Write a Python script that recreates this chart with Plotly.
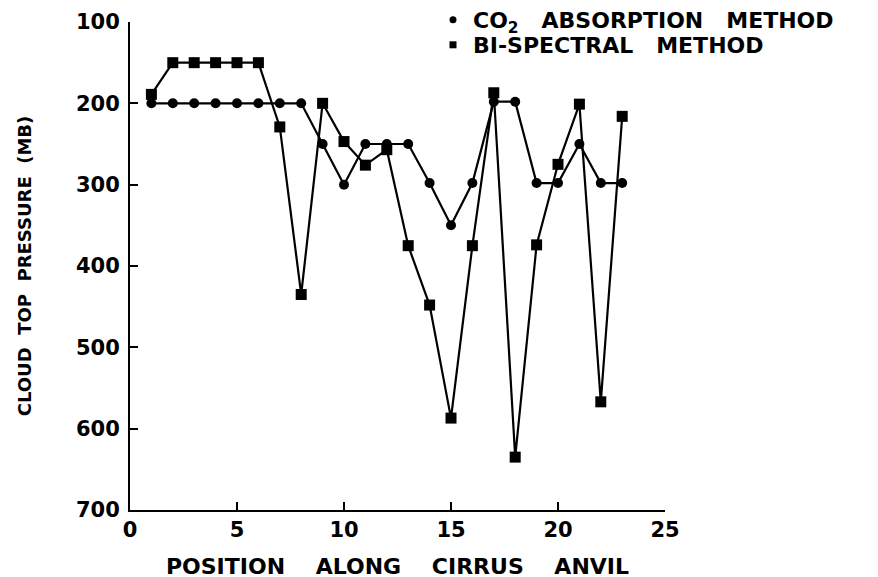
import plotly.graph_objects as go

positions = list(range(1, 24))
co2_pressure = [200, 200, 200, 200, 200, 200, 200, 200, 250, 300, 250, 250, 250, 298, 350, 298, 198, 198, 298, 298, 250, 298, 298]
bispectral_pressure = [189, 150, 150, 150, 150, 150, 229, 435, 200, 247, 276, 257, 375, 448, 587, 375, 187, 635, 374, 275, 201, 567, 216]

x_ticks = [0, 5, 10, 15, 20, 25]
y_ticks = [100, 200, 300, 400, 500, 600, 700]

FONT = "DejaVu Sans, Verdana, sans-serif"
W, H = 878, 577
# page is shown with an 8px body offset; margins compensate
L, R, T, B = 122, 221, 14, 75
PW, PH = W - L - R, H - T - B

fig = go.Figure()
fig.add_trace(go.Scatter(
    x=positions, y=co2_pressure, mode="lines+markers", showlegend=False,
    line=dict(color="black", width=2.2),
    marker=dict(symbol="circle", size=10, color="black"),
))
fig.add_trace(go.Scatter(
    x=positions, y=bispectral_pressure, mode="lines+markers", showlegend=False,
    line=dict(color="black", width=2.2),
    marker=dict(symbol="square", size=11, color="black"),
))
# legend entries (marker only, as in the original key)
fig.add_trace(go.Scatter(
    x=[None], y=[None], mode="markers", legend="legend",
    name="<b>CO<sub>2</sub>   ABSORPTION   METHOD</b>",
    marker=dict(symbol="circle", size=7, color="black"),
))
fig.add_trace(go.Scatter(
    x=[None], y=[None], mode="markers", legend="legend2",
    name="<b>BI-SPECTRAL   METHOD</b>",
    marker=dict(symbol="square", size=7, color="black"),
))

leg_common = dict(
    xanchor="left", yanchor="top", bgcolor="rgba(0,0,0,0)",
    font=dict(size=22, family=FONT), itemwidth=30,
)

fig.update_layout(
    width=W, height=H,
    margin=dict(l=L, r=R, t=T, b=B, pad=0, autoexpand=False),
    paper_bgcolor="white", plot_bgcolor="white",
    font=dict(family=FONT, color="black", size=19),
    showlegend=True,
    legend=dict(x=(425 - L) / PW, y=1 + 23 / PH, **leg_common),
    legend2=dict(x=(425 - L) / PW, y=1 - 2 / PH, **leg_common),
    xaxis=dict(
        range=[0, 25], tickvals=x_ticks, ticktext=[f"<b>{v}</b>" for v in x_ticks],
        showline=True, linecolor="black", linewidth=2, mirror=False,
        ticks="inside", ticklen=8, tickwidth=2, tickcolor="black",
        showgrid=False, zeroline=False,
        tickfont=dict(size=21, family=FONT),
        title=dict(text="<b>POSITION    ALONG    CIRRUS    ANVIL</b>", font=dict(size=22, family=FONT), standoff=17),
    ),
    yaxis=dict(
        range=[700, 100], tickvals=y_ticks, ticktext=[f"<b>{v}</b>" for v in y_ticks],
        showline=True, linecolor="black", linewidth=2, mirror=False,
        ticks="inside", ticklen=8, tickwidth=2, tickcolor="black",
        showgrid=False, zeroline=False,
        tickfont=dict(size=21, family=FONT), ticklabelstandoff=4,
        title=dict(text="<b>CLOUD  TOP  PRESSURE  (MB)</b>", font=dict(size=18, family=FONT), standoff=40),
    ),
)

fig.write_html("out.html")
